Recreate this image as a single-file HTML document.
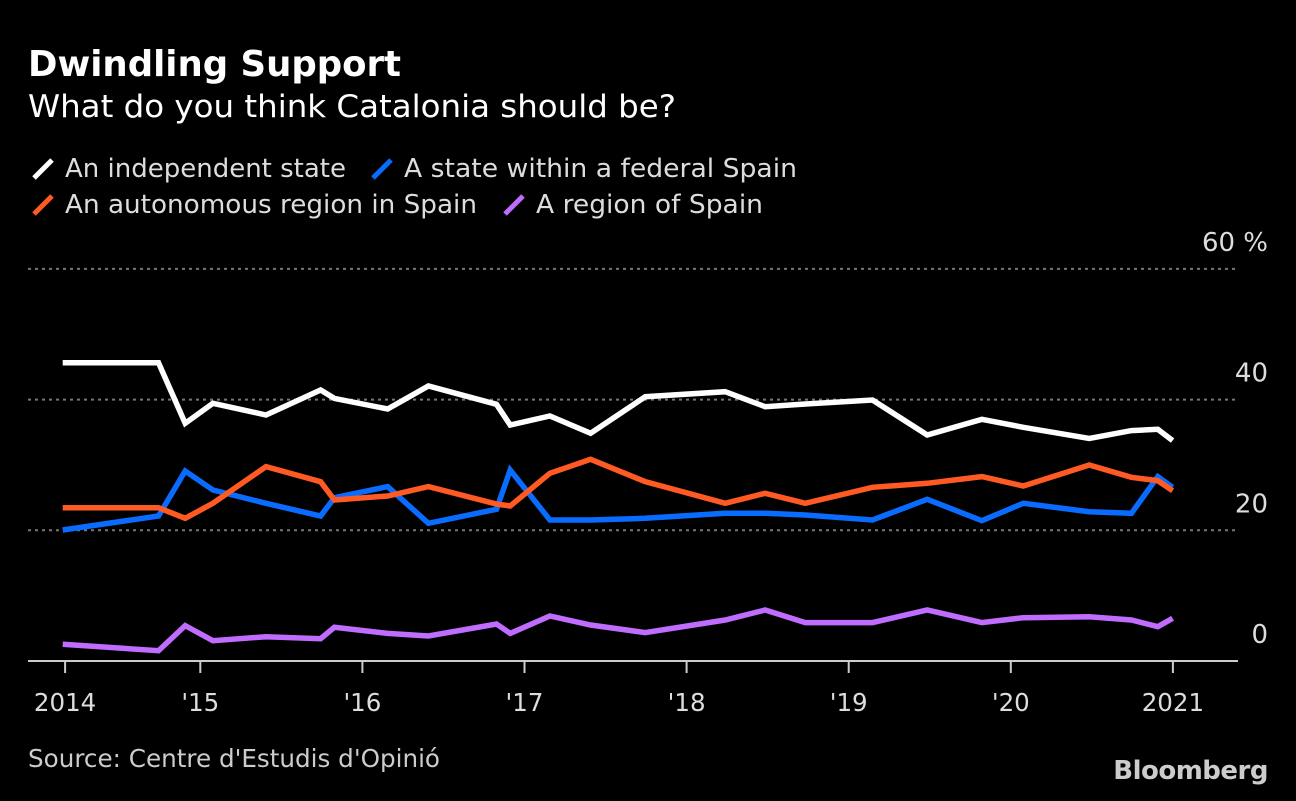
<!DOCTYPE html>
<html><head><meta charset="utf-8"><style>
body{margin:0;background:#000;width:1296px;height:796px;overflow:hidden;font-family:"Liberation Sans","DejaVu Sans",sans-serif;}
svg text{font-family:"DejaVu Sans","Liberation Sans",sans-serif;}
</style></head><body>
<svg id="chart" width="1296" height="796" xmlns="http://www.w3.org/2000/svg">
<text x="28" y="76" fill="#fff" font-size="35.5" font-weight="bold">Dwindling Support</text>
<text x="28" y="117" fill="#fff" font-size="31" textLength="648" lengthAdjust="spacingAndGlyphs">What do you think Catalonia should be?</text>
<g font-size="26" fill="#ddd">
<g><line x1="34" y1="178" x2="52" y2="160" stroke="#fff" stroke-width="5"/><text x="65" y="177" textLength="281" lengthAdjust="spacingAndGlyphs">An independent state</text></g>
<g><line x1="373" y1="178" x2="391" y2="160" stroke="#0a6cff" stroke-width="5"/><text x="404" y="177" textLength="393" lengthAdjust="spacingAndGlyphs">A state within a federal Spain</text></g>
<g><line x1="34" y1="214" x2="52" y2="196" stroke="#ff5a24" stroke-width="5"/><text x="65" y="213" textLength="412" lengthAdjust="spacingAndGlyphs">An autonomous region in Spain</text></g>
<g><line x1="505" y1="214" x2="523" y2="196" stroke="#c06cff" stroke-width="5"/><text x="536" y="213" textLength="227" lengthAdjust="spacingAndGlyphs">A region of Spain</text></g>
</g>
<g id="grid"></g><g id="xaxis"></g><g id="series"></g>
<text x="28" y="767" fill="#ccc" font-size="24.5" textLength="412" lengthAdjust="spacingAndGlyphs">Source: Centre d'Estudis d'Opinió</text>
<text x="1268" y="779" fill="#ccc" font-size="26" font-weight="bold" text-anchor="end" font-family="Liberation Sans" letter-spacing="-0.5">Bloomberg</text>
</svg>
<script>
const dates=[2014.151,2014.742,2014.907,2015.078,2015.405,2015.742,2015.827,2016.156,2016.407,2016.827,2016.912,2017.157,2017.408,2017.745,2018.238,2018.485,2018.732,2019.147,2019.484,2019.822,2020.077,2020.484,2020.744,2020.907,2020.998];
const independent=[45.65,45.65,36.37,39.43,37.64,41.47,40.19,38.56,42.08,39.28,36.11,37.49,34.84,40.45,41.21,38.92,39.33,39.94,34.58,36.98,35.76,34.07,35.25,35.45,33.72];
const federal=[20.05,22.19,29.07,26.17,24.13,22.19,24.99,26.68,21.07,23.21,29.23,21.58,21.58,21.83,22.60,22.60,22.34,21.58,24.74,21.47,24.13,22.85,22.60,28.21,26.58];
const autonomous=[23.46,23.46,21.83,24.13,29.74,27.44,24.64,25.25,26.68,24.02,23.72,28.72,30.86,27.44,24.13,25.66,24.13,26.58,27.19,28.21,26.78,29.99,28.11,27.59,26.06];
const region=[2.55,1.58,5.41,3.11,3.72,3.42,5.15,4.23,3.83,5.66,4.23,6.89,5.51,4.34,6.27,7.80,5.87,5.87,7.80,5.87,6.63,6.78,6.27,5.25,6.53];
const yTicks=[0,20,40,60];
const yTickLabels=["0","20","40","60 %"];
const xTicks=[2014.166,2015,2016,2017,2018,2019,2020,2021];
const xTickLabels=["2014","'15","'16","'17","'18","'19","'20","2021"];
const NS="http://www.w3.org/2000/svg";
const X=t=>200.3+(t-2015)*162.1;
const Y=v=>661-v*6.535;
function mk(tag,attrs,parent){const e=document.createElementNS(NS,tag);for(const k in attrs)e.setAttribute(k,attrs[k]);parent.appendChild(e);return e;}
const grid=document.getElementById('grid');
yTicks.forEach((v,i)=>{
  if(v>0){const l=mk('line',{x1:28,x2:1238,y1:Y(v),y2:Y(v),stroke:'#777','stroke-width':2,'stroke-dasharray':'3 4'},grid);
  
  }
  const t=mk('text',{x:1268,y:Y(v)-18,fill:'#ddd','font-size':26,'text-anchor':'end'},grid);
  t.textContent=yTickLabels[i];
  
  
});
const xa=document.getElementById('xaxis');
const ax=mk('line',{x1:28,x2:1238,y1:661,y2:661,stroke:'#ccc','stroke-width':2},xa);


xTicks.forEach((t,i)=>{
  const tk=mk('line',{x1:X(t),x2:X(t),y1:661,y2:673,stroke:'#ccc','stroke-width':2},xa);
  
  
  const lb=mk('text',{x:X(t),y:711,fill:'#ddd','font-size':24.5,'text-anchor':'middle'},xa);
  lb.textContent=xTickLabels[i];
  
  
});
const sg=document.getElementById('series');
[[region,'#c06cff','line-region-of-spain'],[federal,'#0a6cff','line-federal-state'],[autonomous,'#ff5a24','line-autonomous-region'],[independent,'#fff','line-independent-state']].forEach(([vals,c,n])=>{
  const p=mk('polyline',{points:vals.map((v,i)=>X(dates[i]).toFixed(1)+','+Y(v).toFixed(1)).join(' '),fill:'none',stroke:c,'stroke-width':5.5,'stroke-linejoin':'miter'},sg);
  
  
});
</script>
</body></html>
